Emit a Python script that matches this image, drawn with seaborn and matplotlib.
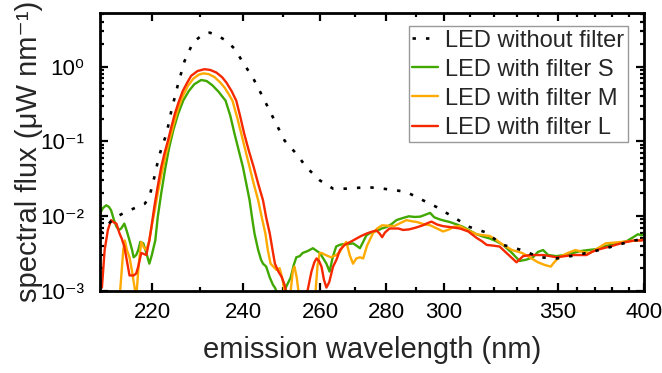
import numpy as np
import pandas as pd
import matplotlib
matplotlib.use("Agg")
import matplotlib.pyplot as plt
import seaborn as sns
from matplotlib.ticker import FixedLocator, FixedFormatter, NullFormatter, LogLocator

# ---------------- data ----------------
wl_none = [210, 211, 212, 213, 214, 215.5, 217, 218.5, 219.4, 220.4, 221.3, 222.1, 222.9,
           223.9, 225.3, 226.7, 228.5, 230.7, 232.2, 234.1, 236.0, 238.0, 239.9, 242.3,
           244.8, 247.3, 250.3, 253.4, 256.1, 259.8, 263.6, 268.5, 273.6, 278.9, 283.3,
           286.7, 291.9, 297.3, 303.6, 310.1, 316.2, 324.0, 332.3, 340.9, 349.2, 360, 370,
           380, 390, 400]
val_none = [0.0058, 0.0072, 0.0085, 0.0097, 0.0106, 0.0119, 0.0132, 0.0146, 0.0179, 0.033,
            0.061, 0.09, 0.126, 0.256, 0.58, 1.19, 2.09, 2.7, 2.84, 2.57, 2.2, 1.71, 1.13,
            0.71, 0.386, 0.209, 0.102, 0.068, 0.045, 0.030, 0.0232, 0.0232, 0.0244, 0.0232,
            0.022, 0.0209, 0.0166, 0.0132, 0.0097, 0.0071, 0.0061, 0.0041, 0.0035, 0.0028,
            0.0027, 0.0030, 0.0034, 0.0039, 0.0045, 0.0050]

wl_S = [210.0, 210.5, 211.1, 211.6, 212.0, 212.5, 213.0, 213.5, 213.9, 214.5, 215.0, 215.5,
        216.0, 216.3, 216.8, 217.2, 217.6, 218.2, 218.8, 219.4, 219.9, 220.3, 220.6, 221.1,
        221.8, 222.6, 223.4, 224.3, 225.3, 226.4, 227.6, 228.8, 230.3, 231.5, 232.8, 234.2,
        235.0, 235.8, 236.9, 237.9, 238.9, 239.9, 240.7, 241.5, 242.1, 242.7, 243.6, 244.3,
        244.8, 245.6, 246.5, 247.3, 247.8, 248.5, 250.0, 250.6, 251.9, 252.7, 253.4, 254.3,
        255.1, 256.5, 257.9, 259.0, 259.8, 260.8, 261.7, 262.6, 263.5, 264.5, 265.5, 266.5,
        268.0, 269.5, 270.6, 271.6, 272.6, 273.6, 275.0, 276.8, 278.5, 280.0, 281.7, 283.3,
        285.5, 287.5, 289.5, 291.5, 293.3, 295.0, 296.5, 298.5, 300.5, 302.3, 305.0, 307.6,
        310.0, 312.8, 315.5, 318.3, 321.0, 324.0, 327.5, 331.4, 334.5, 337.6, 340.0, 342.5,
        345.0, 349.2, 353.0, 357.8, 362.0, 366.0, 370.8, 375.0, 378.6, 383.0, 388.8, 393.0,
        396.0, 398.4, 400.0]
val_S = [0.0110, 0.0128, 0.0139, 0.0132, 0.0119, 0.0090, 0.0072, 0.0065, 0.0068, 0.0079,
         0.0062, 0.0047, 0.0035, 0.0028, 0.0030, 0.0035, 0.0045, 0.0043, 0.0032, 0.0023,
         0.0030, 0.0039, 0.0047, 0.0097, 0.020, 0.042, 0.080, 0.14, 0.23, 0.35, 0.47, 0.58,
         0.66, 0.64, 0.56, 0.46, 0.40, 0.35, 0.22, 0.126, 0.075, 0.045, 0.027, 0.0162,
         0.0095, 0.0058, 0.0035, 0.0026, 0.0023, 0.0021, 0.0015, 0.0012, 0.0011, 0.0009,
         0.0007, 0.0011, 0.0015, 0.0022, 0.0028, 0.0029, 0.0032, 0.0034, 0.0037, 0.0034,
         0.0032, 0.0027, 0.0023, 0.0018, 0.0028, 0.0039, 0.0041, 0.0042, 0.0042, 0.0043,
         0.0040, 0.0037, 0.0045, 0.0055, 0.0060, 0.0063, 0.0068, 0.0071, 0.0078, 0.0088,
         0.0094, 0.0099, 0.0097, 0.0098, 0.0104, 0.0110, 0.0096, 0.0090, 0.0086, 0.0083,
         0.0077, 0.0071, 0.0064, 0.0057, 0.0053, 0.0050, 0.0046, 0.0041, 0.0033, 0.0025,
         0.0026, 0.0028, 0.0033, 0.0035, 0.0030, 0.0029, 0.0030, 0.0032, 0.0034, 0.0035,
         0.0036, 0.0039, 0.0041, 0.0043, 0.0046, 0.0052, 0.0057, 0.0055, 0.0057]

wl_M = [213.6, 213.9, 214.3, 214.6, 215.0, 215.5, 216.0, 216.4, 216.8, 217.0, 217.3, 217.8,
        218.3, 218.8, 219.4, 219.9, 220.5, 221.2, 222.0, 222.8, 223.6, 224.4, 225.3, 226.3,
        227.4, 228.6, 229.8, 230.8, 232.0, 233.3, 234.6, 235.6, 236.5, 237.4, 238.5, 239.5,
        240.5, 241.5, 242.5, 243.6, 244.5, 245.4, 246.0, 246.7, 248.2, 249.0, 249.8, 250.5,
        251.8, 252.5, 252.9, 253.5, 254.2, 258.5, 259.2, 259.8, 260.3, 261.5, 263.0, 264.5,
        265.6, 266.5, 267.5, 268.5, 269.5, 270.5, 271.6, 272.6, 273.8, 275.6, 277.0, 278.6,
        280.5, 282.5, 284.5, 286.7, 288.5, 290.3, 292.5, 295.0, 297.5, 299.8, 302.0, 304.0,
        306.2, 309.5, 312.8, 316.0, 318.3, 321.0, 324.0, 328.0, 332.5, 336.0, 340.0, 343.5,
        346.3, 348.0, 350.5, 355.0, 359.0, 363.0, 367.0, 371.5, 376.0, 381.0, 386.0, 391.0,
        396.0, 400.0]
val_M = [0.0008, 0.0015, 0.0035, 0.0047, 0.0035, 0.0028, 0.0018, 0.0012, 0.0008, 0.0012,
         0.0023, 0.0045, 0.0038, 0.0035, 0.0047, 0.0075, 0.012, 0.022, 0.040, 0.068, 0.110,
         0.17, 0.27, 0.40, 0.55, 0.69, 0.78, 0.81, 0.79, 0.72, 0.61, 0.52, 0.43, 0.35, 0.21,
         0.126, 0.075, 0.045, 0.027, 0.0162, 0.0095, 0.0058, 0.0035, 0.0023, 0.0019, 0.0020,
         0.0014, 0.0008, 0.0009, 0.0019, 0.0021, 0.0015, 0.0008, 0.0008, 0.0022, 0.0032,
         0.0032, 0.0030, 0.0028, 0.0030, 0.0033, 0.0040, 0.0045, 0.0030, 0.0023, 0.0027,
         0.0028, 0.0027, 0.0040, 0.0058, 0.0068, 0.0075, 0.0074, 0.0073, 0.0080, 0.0088,
         0.0085, 0.0083, 0.0078, 0.0075, 0.0068, 0.0062, 0.0066, 0.0072, 0.0073, 0.0064,
         0.0057, 0.0055, 0.0054, 0.0048, 0.0041, 0.0035, 0.0032, 0.0028, 0.0024, 0.0022,
         0.0021, 0.0024, 0.0028, 0.0032, 0.0035, 0.0033, 0.0032, 0.0037, 0.0043, 0.0044,
         0.0045, 0.0046, 0.0047, 0.0048]

wl_L = [210.3, 210.8, 211.4, 212.0, 212.5, 213.0, 213.6, 214.0, 214.5, 215.0, 215.5, 216.3,
        216.8, 217.2, 217.8, 218.3, 218.8, 219.4, 219.8, 220.4, 221.1, 221.8, 222.5, 223.2,
        223.9, 224.6, 225.4, 226.3, 227.2, 228.1, 229.5, 231.0, 232.3, 233.7, 235.0, 236.0,
        237.2, 238.3, 239.2, 240.2, 241.3, 242.5, 243.6, 244.8, 245.6, 246.5, 247.2, 247.8,
        248.7, 249.5, 250.3, 251.0, 256.0, 256.6, 257.5, 258.3, 258.9, 259.6, 260.3, 261.0,
        261.7, 262.5, 263.6, 264.6, 265.6, 267.0, 268.3, 269.5, 270.6, 272.0, 273.6, 275.0,
        276.8, 277.8, 278.6, 279.5, 281.0, 283.9, 285.5, 287.5, 290.0, 292.4, 294.0, 295.5,
        297.5, 299.8, 302.5, 306.2, 309.5, 312.8, 315.0, 317.0, 320.0, 322.5, 326.0, 330.0,
        333.0, 336.2, 339.5, 342.5, 346.0, 349.2, 353.5, 357.8, 361.5, 365.1, 368.0, 370.8,
        374.5, 378.6, 383.5, 388.8, 393.5, 398.4, 400.0]
val_L = [0.0011, 0.0035, 0.0065, 0.0088, 0.0082, 0.0079, 0.0058, 0.0050, 0.0039, 0.0025,
         0.0016, 0.0016, 0.0017, 0.0021, 0.0032, 0.0031, 0.0030, 0.0047, 0.0070, 0.0132,
         0.025, 0.045, 0.070, 0.102, 0.155, 0.23, 0.33, 0.47, 0.60, 0.75, 0.87, 0.92, 0.90,
         0.83, 0.72, 0.61, 0.47, 0.35, 0.22, 0.126, 0.075, 0.045, 0.027, 0.0162, 0.0095,
         0.0058, 0.0035, 0.0023, 0.0018, 0.00154, 0.0012, 0.0008, 0.0008, 0.0011, 0.0018,
         0.0024, 0.0027, 0.0025, 0.0021, 0.0014, 0.0011, 0.0013, 0.0021, 0.0026, 0.0035,
         0.0041, 0.0044, 0.0047, 0.0050, 0.0054, 0.0058, 0.0061, 0.0064, 0.0058, 0.0052,
         0.0060, 0.0068, 0.0068, 0.0065, 0.0066, 0.0070, 0.0075, 0.0080, 0.0084, 0.0077,
         0.0073, 0.0071, 0.0068, 0.0062, 0.0051, 0.0046, 0.0041, 0.0040, 0.0039, 0.0031,
         0.0024, 0.0029, 0.0030, 0.0030, 0.0030, 0.0029, 0.0028, 0.0029, 0.0030, 0.0030,
         0.0030, 0.0033, 0.0035, 0.0037, 0.0039, 0.0042, 0.0045, 0.0047, 0.0047, 0.0048]

series_names = ["LED without filter", "LED with filter S", "LED with filter M", "LED with filter L"]
x_major = [220, 240, 260, 280, 300, 350, 400]
x_minor = [230, 250, 270, 290, 310, 320, 330, 340, 360, 370, 380, 390]
y_major = [1e-3, 1e-2, 1e-1, 1e0]
y_labels = ["10⁻³", "10⁻²", "10⁻¹", "10⁰"]

# ---------------- style ----------------
sns.set_style("ticks")
plt.rcParams["font.family"] = ["Liberation Sans", "DejaVu Sans"]

colors = ["black", "#40a800", "#ffaa00", "#f52800"]

fig = plt.figure(figsize=(6.62, 3.73), dpi=100)
ax = fig.add_axes([100.3 / 662, (373 - 290.7) / 373, (644 - 100.3) / 662, (290.7 - 13) / 373])

def fwd(x):
    x = np.asarray(x, dtype=float)
    with np.errstate(divide="ignore", invalid="ignore"):
        return -1.0 / x

ax.set_xscale("function", functions=(fwd, fwd))
ax.set_yscale("log")

data = [(wl_none, val_none), (wl_S, val_S), (wl_M, val_M), (wl_L, val_L)]
for i, ((wl, vals), name) in enumerate(zip(data, series_names)):
    df = pd.DataFrame({"wl": wl, "flux": vals})
    sns.lineplot(data=df, x="wl", y="flux", color=colors[i], lw=1.7, label=name, ax=ax)
ax.lines[0].set_linewidth(1.9)
ax.lines[0].set_linestyle((0, (1.3, 3.8)))
ax.lines[0].set_dash_capstyle("butt")
ax.lines[0].set_zorder(3)

ax.set_xlim(210, 400)
ax.set_ylim(1e-3, 5.2)

ax.xaxis.set_major_locator(FixedLocator(x_major))
ax.xaxis.set_major_formatter(FixedFormatter([str(v) for v in x_major]))
ax.xaxis.set_minor_locator(FixedLocator(x_minor))
ax.xaxis.set_minor_formatter(NullFormatter())
ax.yaxis.set_major_locator(FixedLocator(y_major))
ax.yaxis.set_major_formatter(FixedFormatter(y_labels))
ax.yaxis.set_minor_locator(LogLocator(base=10, subs=np.arange(2, 10), numticks=20))
ax.yaxis.set_minor_formatter(NullFormatter())

for s in ax.spines.values():
    s.set_linewidth(2.0)
    s.set_color("black")
    s.set_visible(True)

ax.tick_params(which="both", direction="in", top=True, right=True, colors="black",
               width=1.6, labelsize=16)
ax.tick_params(which="major", length=5.5)
ax.tick_params(which="minor", length=3)
ax.tick_params(axis="x", which="major", pad=8)
ax.tick_params(axis="y", which="major", pad=11.5)

ax.set_xlabel("emission wavelength (nm)", fontsize=21)
ax.set_ylabel("spectral flux (μW nm⁻¹)", fontsize=21)
ax.xaxis.set_label_coords(0.5, -0.164)
ax.yaxis.set_label_coords(-0.106, 0.5)

leg = ax.legend(loc="upper right", bbox_to_anchor=(0.9706, 0.953), borderaxespad=0,
                fontsize=17, frameon=True, fancybox=False, edgecolor="#999999",
                framealpha=1, handlelength=1.1, handletextpad=0.3, labelspacing=0.3,
                borderpad=0.15)
leg.get_frame().set_linewidth(1.0)

fig.savefig("out.png", dpi=100)
